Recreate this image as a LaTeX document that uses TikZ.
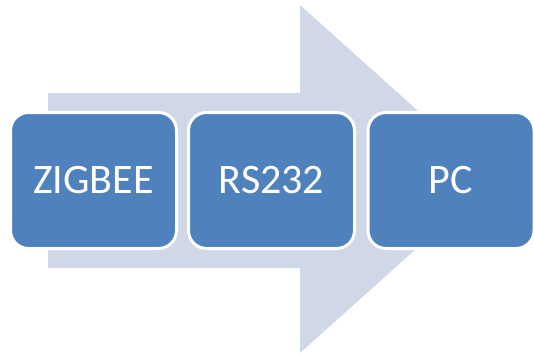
\documentclass[tikz,border=0pt]{standalone}
\usepackage{fontspec}
\setmainfont{Carlito}
\definecolor{stepblue}{HTML}{4F81BD}
\definecolor{flowpale}{HTML}{D0D8E8}
\begin{document}
\begin{tikzpicture}[x=1pt,y=-1pt,
  stagebox/.style={rounded corners=18pt, fill=stepblue, draw=white, line width=3pt,
    minimum width=166pt, minimum height=136pt, inner sep=0pt,
    text=white, font=\fontsize{42}{46}\selectfont},
]
\useasboundingbox (0,0) rectangle (534,353);
% background flow arrow
\fill[flowpale] (48,93) -- (300,93) -- (300,5) -- (494,179) -- (300,353)
  -- (300,268) -- (48,268) -- cycle;
% stages
\node[stagebox] (zigbee) at (93.5,180.5) {ZIGBEE};
\node[stagebox] (rs) at (271.5,180.5) {RS232};
\node[stagebox] (pc) at (451,180.5) {PC};
\end{tikzpicture}
\end{document}
